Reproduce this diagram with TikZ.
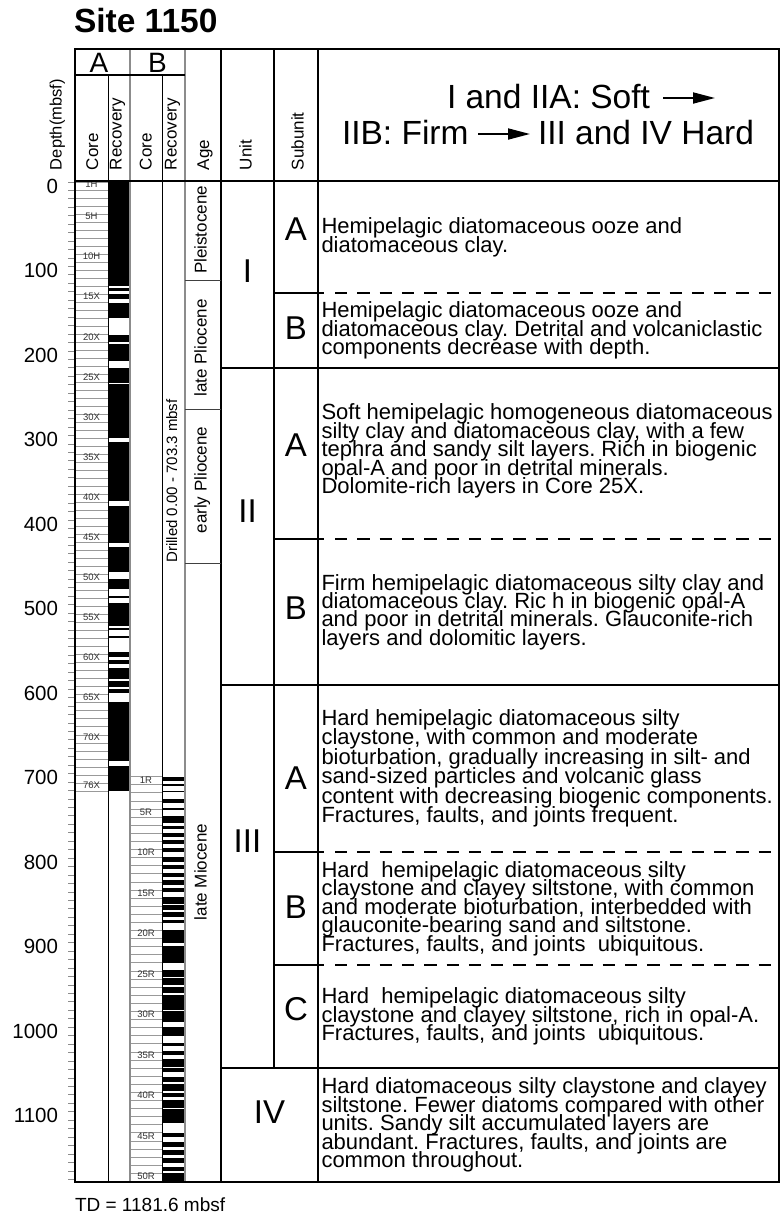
\documentclass[tikz,border=0pt]{standalone}
\usepackage{fontspec}
\setmainfont{Liberation Sans}
\usetikzlibrary{arrows.meta}
\newcommand{\fsz}[2]{\fontsize{#1bp}{#2bp}\selectfont}
\frenchspacing
\begin{document}
\begin{tikzpicture}[x=1bp,y=-1bp,
  every node/.style={inner sep=0pt, outer sep=0pt},
  thickln/.style={line width=2bp},
  thinln/.style={line width=1bp},
  grayln/.style={line width=1.4bp, black!45},
  coreln/.style={line width=0.8bp, black!40},
  tickln/.style={line width=1bp, black!45},
  ageln/.style={line width=1bp, black!75},
  subln/.style={line width=1.5bp},
  dashln/.style={line width=1.3bp, dash pattern=on 12.3bp off 10bp},
  hdrtxt/.style={font=\fsz{33.5}{40}, anchor=base west},
  colhdr/.style={font=\fsz{17}{20}, rotate=90, anchor=base west},
  agetxt/.style={font=\fsz{17}{20}, rotate=90, anchor=base},
  unittxt/.style={font=\fsz{33}{40}},
  desc/.style={font={\fsz{22}{18.4}\lineskiplimit=-100bp\lineskip=0bp\frenchspacing\relax}, align=left, anchor=west},
  descb/.style={font={\fsz{22}{19.5}\lineskiplimit=-100bp\lineskip=0bp\frenchspacing\relax}, align=left, anchor=west},
  corelbl/.style={font=\fsz{9.5}{10}, text=black!80},
  depthlbl/.style={font=\fsz{20.5}{24}, anchor=east},
  arr/.style={line width=1.8bp, -{Triangle[length=22bp,width=11bp]}}
]
\fill[white] (0,0) rectangle (780,1218);
\useasboundingbox (0,0) rectangle (780,1218);

% title
\node[font=\bfseries\fsz{33.5}{40}, anchor=base west] (title) at (74,32) {Site 1150};

% recovery A (black with gaps)
\fill[black] (108,182) rectangle (130,791);
\foreach \a/\b in {286/287.5,291/294,298.5/303,317.5/334.5,342/343.5,361/367.5,382.5/383.5,438/442,501/506,543/547,572/579,589/596,598/603,626/627.5,630/636,638.3/652,656.7/660,664/668.3,679/681,687/689,693/702,761/766}
  \fill[white] (108,\a) rectangle (130,\b);

% recovery B (black bands)
\foreach \a/\b in {776.7/781,784/786,791/792.3,799.3/802.7,807.7/810,816/823.3,825.7/829,832.7/836.7,840/844,848.3/851.7,856.7/861.7,865/869.3,872.7/876.7,880/885,888.3/892.3,896.7/904,905.3/910,911.7/916.7,920/922.7,930/943.3,946/962.7,970/976.7,978.3/985,986.7/993.3,995/1010,1011/1021.7,1026.7/1036,1042.7/1046,1050.7/1055,1059/1066.7,1068.3/1071.7,1076.7/1081.7,1084.3/1091,1093.3/1096.7,1100/1108.3,1109/1123.3,1132.7/1136.7,1141.7/1146.7,1150/1155,1158.3/1163.3,1166.7/1171,1173.3/1181.7}
  \fill[black] (162,\a) rectangle (185,\b);

% core boundary lines
\foreach \k in {0,...,76}
  \draw[coreln] (75,{182+8.013*\k}) -- (108,{182+8.013*\k});
\foreach \k in {0,...,50}
  \draw[coreln] (130,{776.7+8.094*\k}) -- (162,{776.7+8.094*\k});

% core labels
\foreach \k/\s in {1/H,5/H,10/H,15/X,20/X,25/X,30/X,35/X,40/X,45/X,50/X,55/X,60/X,65/X,70/X,76/X}
  \node[corelbl] (ca\k) at (91.5,{182+8.013*(\k-0.5)-1.5}) {\k\s};
\foreach \k in {1,5,10,...,50}
  \node[corelbl] (cb\k) at (146,{776.7+8.094*(\k-0.5)-1}) {\k R};

% depth ticks and labels
\foreach \d in {0,10,...,1180}
  \draw[tickln] (68,{182+0.8453*\d}) -- (75,{182+0.8453*\d});
\foreach \d in {0,100,...,1100}
  \node[depthlbl] (d\d) at (58,{182+0.8453*\d+4}) {\d};

% grid
\draw[grayln] (130,49) -- (130,1182);
\draw[grayln] (185,49) -- (185,1182);
\draw[thinln] (108,75) -- (108,1182);
\draw[thinln] (162,75) -- (162,1182);
\draw[line width=1.5bp] (75,75) -- (185,75);
\draw[thickln] (75,49) -- (779,49);
\draw[thickln] (75,181) -- (779,181);
\draw[thickln] (75,1182) -- (779,1182);
\draw[thickln] (75,48) -- (75,1183);
\draw[thickln] (779,48) -- (779,1183);
\draw[thickln] (221,49) -- (221,1182);
\draw[thickln] (274,49) -- (274,1068);
\draw[thickln] (318,49) -- (318,1182);

% age boundaries
\foreach \y in {280,409,563}
  \draw[ageln] (185,\y) -- (221,\y);
% unit boundaries
\foreach \y in {368,685,1068}
  \draw[thickln] (221,\y) -- (779,\y);
% subunit boundaries
\foreach \y in {293,539,852,965}{
  \draw[subln] (274,\y) -- (324,\y);
  \draw[dashln] (335,\y) -- (779,\y);
}

% header labels
\node[font=\fsz{28}{32}] (hA) at (99,62.5) {A};
\node[font=\fsz{28}{32}] (hB) at (157.5,62.5) {B};
\node[colhdr, font=\fsz{16.5}{20}] (hdepth) at (61.7,170) {Depth(mbsf)};
\node[colhdr] (hcoreA) at (98,170) {Core};
\node[colhdr] (hrecA) at (121.7,170) {Recovery};
\node[colhdr] (hcoreB) at (151.7,170) {Core};
\node[colhdr] (hrecB) at (176.7,170) {Recovery};
\node[colhdr] (hage) at (209,170) {Age};
\node[colhdr] (hunit) at (251.7,170) {Unit};
\node[colhdr] (hsub) at (303.5,170) {Subunit};

% hardness header
\node[hdrtxt] (h1) at (447,108) {I and IIA: Soft};
\coordinate (a1s) at (663,98);
\coordinate (a1e) at (715,98);
\draw[arr] (a1s) -- (a1e);
\node[hdrtxt] (h2) at (342,144) {IIB: Firm};
\coordinate (a2s) at (478,134);
\coordinate (a2e) at (530,134);
\draw[arr] (a2s) -- (a2e);
\node[hdrtxt] (h3) at (538,144) {III and IV Hard};

% ages
\node[agetxt] (ageP) at (206.5,230) {Pleistocene};
\node[agetxt] (ageLP) at (206.5,348) {late Pliocene};
\node[agetxt] (ageEP) at (206.5,480) {early Pliocene};
\node[agetxt] (ageLM) at (206.5,872) {late Miocene};
\node[font=\fsz{15}{18}, rotate=90, anchor=base] (drill) at (177,481) {Drilled 0.00 - 703.3 mbsf};

% units and subunits
\node[unittxt] (uI) at (247.5,271) {I};
\node[unittxt] (uII) at (247.5,511) {II};
\node[unittxt] (uIII) at (247.5,841) {III};
\node[unittxt] (uIV) at (269.5,1112) {IV};
\node[unittxt] (sIA) at (296,229.5) {A};
\node[unittxt] (sIB) at (296,328) {B};
\node[unittxt] (sIIA) at (296,445.5) {A};
\node[unittxt] (sIIB) at (296,608) {B};
\node[unittxt] (sIIIA) at (296,778) {A};
\node[unittxt] (sIIIB) at (296,907) {B};
\node[unittxt] (sIIIC) at (296,1009) {C};

% descriptions
\node[desc] (dIA) at (321.5,237.5) {Hemipelagic diatomaceous ooze and\\diatomaceous clay.};
\node[desc] (dIB) at (321.5,330.5) {Hemipelagic diatomaceous ooze and\\diatomaceous clay. Detrital and volcaniclastic\\components decrease with depth.};
\node[desc] (dIIA) at (321.5,451) {Soft hemipelagic homogeneous diatomaceous\\silty clay and diatomaceous clay, with a few\\tephra and sandy silt layers. Rich in biogenic\\opal-A and poor in detrital minerals.\\Dolomite-rich layers in Core 25X.};
\node[desc] (dIIB) at (321.5,612) {Firm hemipelagic diatomaceous silty clay and\\diatomaceous clay. Ric h in biogenic opal-A\\and poor in detrital minerals. Glauconite-rich\\layers and dolomitic layers.};
\node[descb] (dIIIA) at (321.5,768.5) {Hard hemipelagic diatomaceous silty\\claystone, with common and moderate\\bioturbation, gradually increasing in silt- and\\sand-sized particles and volcanic glass\\content with decreasing biogenic components.\\Fractures, faults, and joints frequent.};
\node[desc] (dIIIB) at (321.5,908.5) {Hard\ \ hemipelagic diatomaceous silty\\claystone and clayey siltstone, with common\\and moderate bioturbation, interbedded with\\glauconite-bearing sand and siltstone.\\Fractures, faults, and joints\ \ ubiquitous.};
\node[desc] (dIIIC) at (321.5,1016.5) {Hard\ \ hemipelagic diatomaceous silty\\claystone and clayey siltstone, rich in opal-A.\\Fractures, faults, and joints\ \ ubiquitous.};
\node[desc] (dIV) at (321.5,1125) {Hard diatomaceous silty claystone and clayey\\siltstone. Fewer diatoms compared with other\\units. Sandy silt accumulated layers are\\abundant. Fractures, faults, and joints are\\common throughout.};

% total depth
\node[font=\fsz{19}{22}, anchor=base west] (td) at (75,1211) {TD = 1181.6 mbsf};
\end{tikzpicture}
\end{document}
